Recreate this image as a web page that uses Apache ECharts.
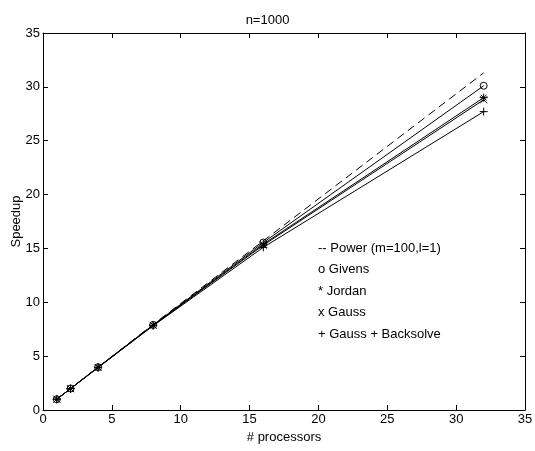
<!DOCTYPE html>
<html><head><meta charset="utf-8">
<script src="https://cdn.jsdelivr.net/npm/echarts@6/dist/echarts.min.js"></script>
<style>html,body{margin:0;padding:0;background:#fff}#c{width:535px;height:451px}</style>
</head><body><div id="c"></div>
<script>
const procs = [1, 2, 4, 8, 16, 32];
const power = [1, 2, 3.98, 7.95, 15.7, 31.3];
const givens = [1, 1.99, 3.97, 7.9, 15.55, 30.1];
const jordan = [1, 1.99, 3.96, 7.88, 15.4, 29.0];
const gauss = [1, 1.98, 3.95, 7.86, 15.3, 28.8];
const gaussBack = [1, 1.98, 3.94, 7.82, 15.1, 27.7];
const xTicks = [0, 5, 10, 15, 20, 25, 30, 35];
const legendTexts = ['-- Power (m=100,l=1)', 'o Givens', '* Jordan', 'x Gauss', '+ Gauss + Backsolve'];

const FONT = 'Liberation Sans';
const pairs = v => procs.map((p, i) => [p, v[i]]);
const SYM = {
  plus: 'path://M5,0 L5,10 M0,5 L10,5',
  cross: 'path://M0,0 L10,10 M0,10 L10,0',
  star: 'path://M5,0 L5,10 M0,5 L10,5 M1.5,1.5 L8.5,8.5 M1.5,8.5 L8.5,1.5'
};
function mk(name, data, symbol, size) {
  return {
    name, type: 'line', data: pairs(data), symbol, symbolSize: size,
    lineStyle: { color: '#000', width: 1 },
    itemStyle: { color: 'rgba(0,0,0,0)', borderColor: '#000', borderWidth: 1 },
    emphasis: { disabled: true }, animation: false, z: 3
  };
}
const chart = echarts.init(document.getElementById('c'), null, { renderer: 'canvas' });
const axisBase = {
  type: 'value', min: 0, max: 35, interval: 5,
  axisLine: { show: true, onZero: false, lineStyle: { color: '#000', width: 1 } },
  axisTick: { show: true, inside: true, length: 5, lineStyle: { color: '#000' } },
  splitLine: { show: false }
};
chart.setOption({
  animation: false,
  backgroundColor: '#fff',
  title: { text: 'n=1000', left: 'center', top: 9, textStyle: { fontFamily: FONT, fontSize: 13, fontWeight: 'normal', color: '#000' } },
  grid: { left: 43, right: 10, top: 33, bottom: 41, containLabel: false, outerBoundsMode: 'none' },
  xAxis: [
    Object.assign({}, axisBase, { position: 'bottom', name: '# processors', nameLocation: 'middle', nameGap: 21,
      nameMoveOverlap: false,
      nameTextStyle: { fontFamily: FONT, fontSize: 13, color: '#000' },
      axisLabel: { fontFamily: FONT, fontSize: 13, color: '#000', margin: 3,
        formatter: v => xTicks.includes(v) ? String(v) : '' } }),
    Object.assign({}, axisBase, { position: 'top', axisLabel: { show: false } })
  ],
  yAxis: [
    Object.assign({}, axisBase, { position: 'left', name: 'Speedup', nameLocation: 'middle', nameGap: 20,
      nameMoveOverlap: false,
      nameTextStyle: { fontFamily: FONT, fontSize: 13, color: '#000' },
      axisLabel: { fontFamily: FONT, fontSize: 13, color: '#000', margin: 3 } }),
    Object.assign({}, axisBase, { position: 'right', axisLabel: { show: false } })
  ],
  series: [
    { name: 'Power', type: 'line', data: pairs(power), symbol: 'none',
      lineStyle: { color: '#000', width: 1, type: [8, 5] }, emphasis: { disabled: true }, z: 2 },
    mk('Givens', givens, 'circle', 7),
    mk('Jordan', jordan, SYM.star, 8),
    mk('Gauss', gauss, SYM.cross, 7),
    mk('Gauss + Backsolve', gaussBack, SYM.plus, 8)
  ],
  graphic: legendTexts.map((t, i) => ({
    type: 'text', left: 318, top: 241.5 + i * 21.5,
    style: { text: t, fontFamily: FONT, fontSize: 13, fill: '#000' }
  }))
});
</script></body></html>
